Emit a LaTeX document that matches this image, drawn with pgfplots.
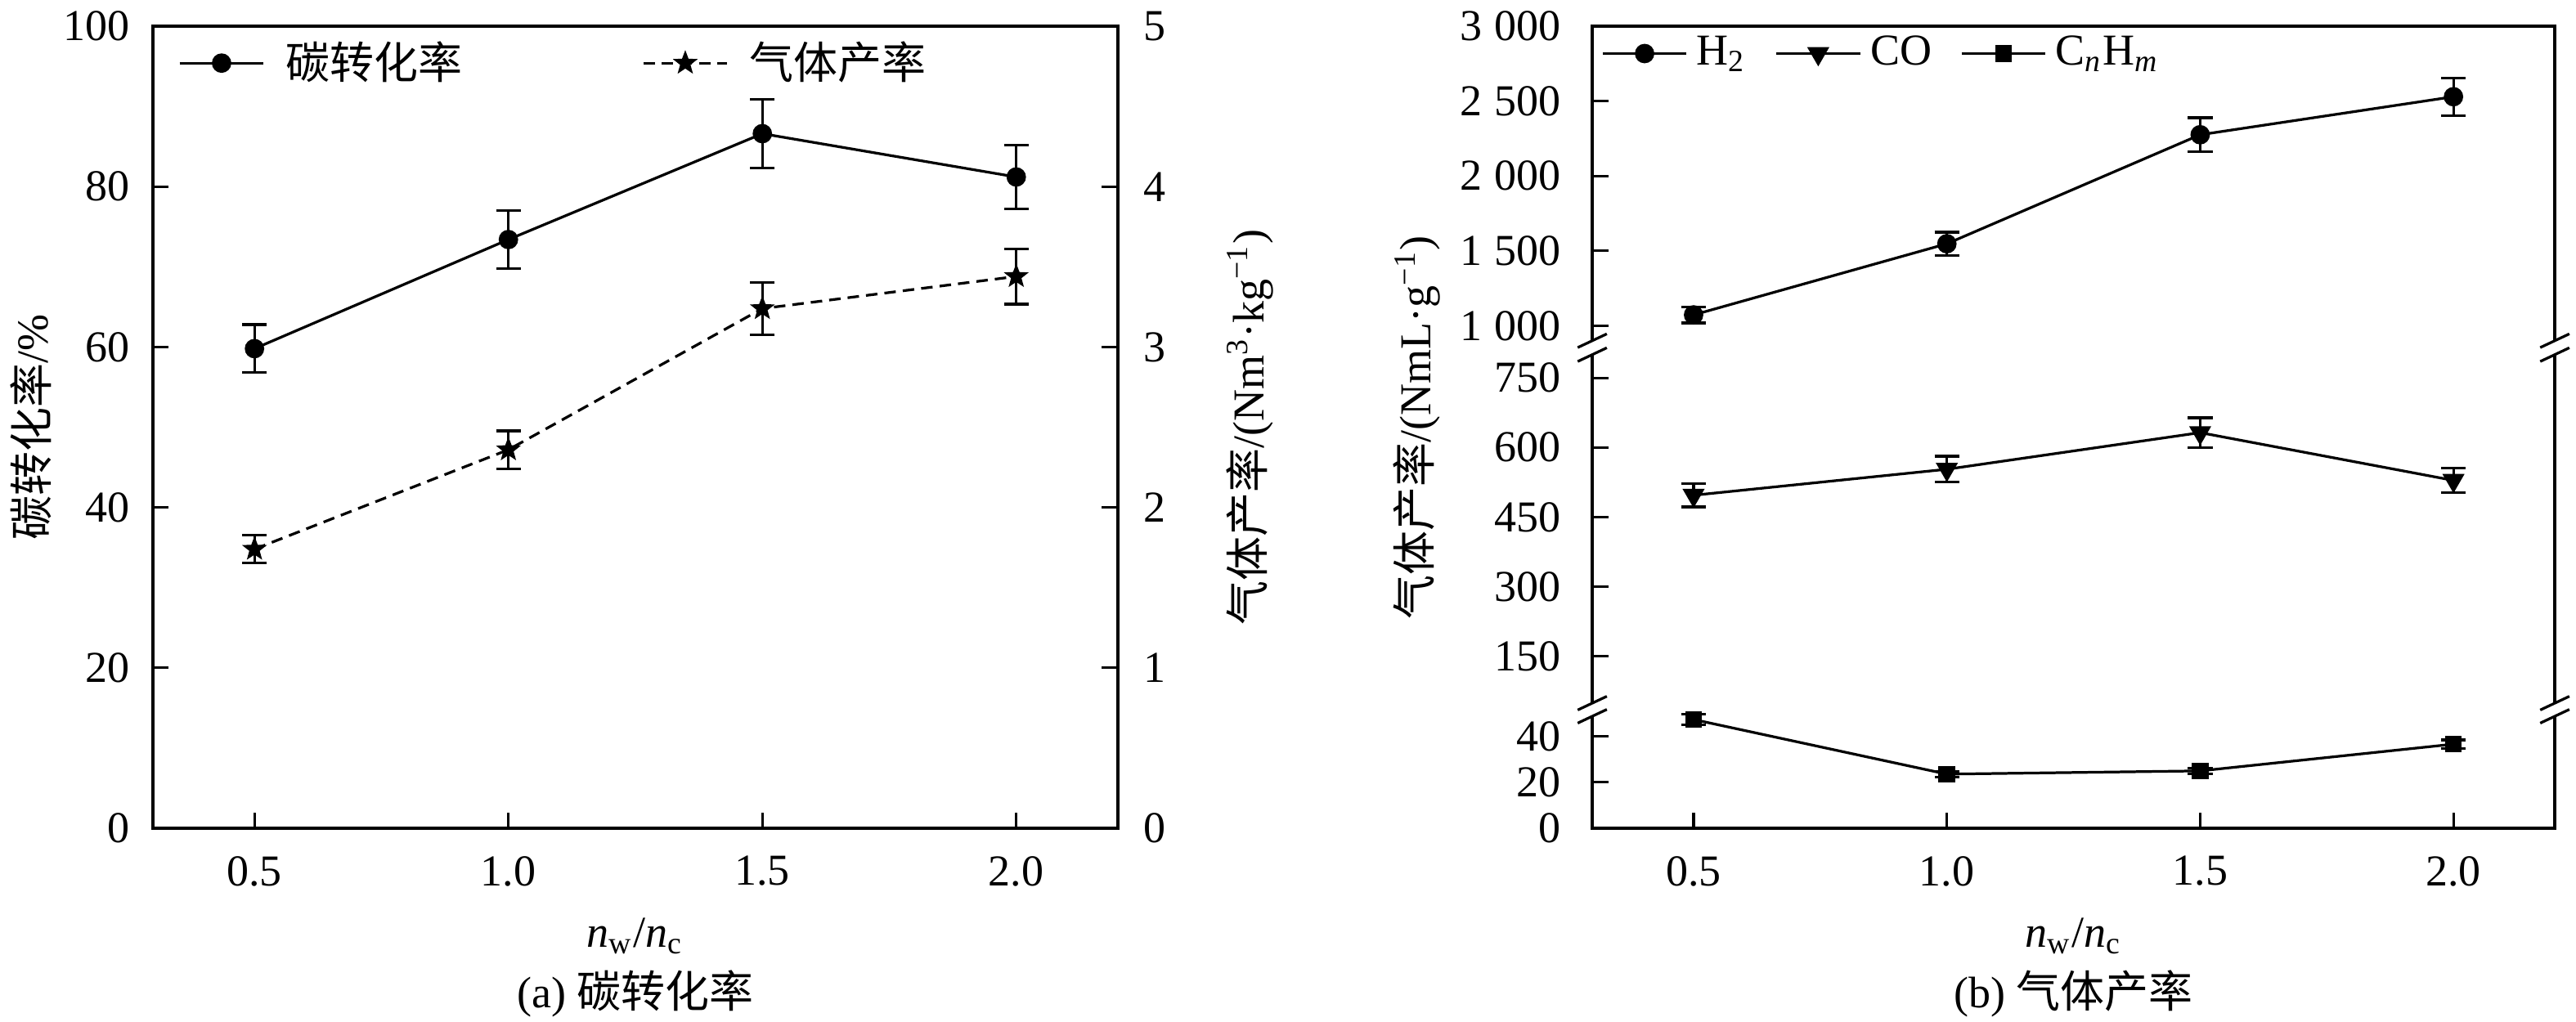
\documentclass[border=0pt]{standalone}
\usepackage{fontspec}
\setmainfont{Liberation Serif}
\newfontfamily\cjk{Noto Sans CJK SC}
\usepackage{pgfplots}
\pgfplotsset{compat=1.18}

\pgfdeclareplotmark{fstar}{%
 \pgfpathmoveto{\pgfpointpolar{90}{\pgfplotmarksize}}%
 \pgfpathlineto{\pgfpointpolar{126}{0.42\pgfplotmarksize}}%
 \pgfpathlineto{\pgfpointpolar{162}{\pgfplotmarksize}}%
 \pgfpathlineto{\pgfpointpolar{198}{0.42\pgfplotmarksize}}%
 \pgfpathlineto{\pgfpointpolar{234}{\pgfplotmarksize}}%
 \pgfpathlineto{\pgfpointpolar{270}{0.42\pgfplotmarksize}}%
 \pgfpathlineto{\pgfpointpolar{306}{\pgfplotmarksize}}%
 \pgfpathlineto{\pgfpointpolar{342}{0.42\pgfplotmarksize}}%
 \pgfpathlineto{\pgfpointpolar{18}{\pgfplotmarksize}}%
 \pgfpathlineto{\pgfpointpolar{54}{0.42\pgfplotmarksize}}%
 \pgfpathclose
 \pgfusepathqfillstroke}

\pgfplotsset{
 base/.style={scale only axis, xmin=0.3, xmax=2.2, tick align=inside, major tick length=3.6pt,
   every tick/.style={black, line width=0.6pt}, axis line style={line width=0.6pt},
   xtick={0.5,1,1.5,2}, xticklabels={0.5,1.0,1.5,2.0},
   xticklabel style={yshift=-2.8pt},
   tick label style={font=\normalsize},
   legend style={draw=none, fill=none, font=\normalsize},
   legend image code/.code={\draw[mark repeat=2, mark phase=2, #1] plot coordinates {(0pt,0pt) (9.5pt,0pt) (19pt,0pt)};},
   clip=false},
 eb/.style={error bars/.cd, y dir=both, y explicit,
   error bar style={solid, line width=0.6pt},
   error mark options={solid, rotate=90, mark size=2.8pt, line width=0.6pt}},
 sA/.style={black, line width=0.6pt, mark=*, mark size=1.9pt},
 sB/.style={black, line width=0.6pt, dash pattern=on 2.6pt off 1.6pt, mark=fstar, mark size=2.1pt, mark options={solid}},
 sH/.style={black, line width=0.6pt, mark=*, mark size=1.9pt},
 sC/.style={black, line width=0.6pt, mark=triangle*, mark size=2.3pt, mark options={rotate=180}},
 sM/.style={black, line width=0.6pt, mark=square*, mark size=1.6pt},
}

\begin{document}
\begin{tikzpicture}
\useasboundingbox (0,0) rectangle (583.33pt,231.3pt);

% ---------- (a) ----------
\begin{axis}[base, at={(34.63pt,43.7pt)}, anchor=south west, width=218.5pt, height=181.67pt,
  ymin=0, ymax=100, ytick={0,20,40,60,80,100}, yticklabels={0,20,40,60,80,100},
  ytick pos=left, xtick pos=bottom, yticklabel style={xshift=-1.7pt}]
\addplot[sA, eb] coordinates {
 (0.5,59.8) +- (0,3.0)
 (1.0,73.4) +- (0,3.6)
 (1.5,86.6) +- (0,4.3)
 (2.0,81.2) +- (0,4.0)
};
\end{axis}
\begin{axis}[base, at={(34.63pt,43.7pt)}, anchor=south west, width=218.5pt, height=181.67pt,
  ymin=0, ymax=5, ytick={0,1,2,3,4,5}, yticklabels={0,1,2,3,4,5},
  axis x line=none, axis y line*=right, yticklabel style={xshift=2.3pt},
  legend columns=2,
  legend style={at={(0.0254,0.954)}, anchor=west, inner sep=0pt,
    /tikz/every odd column/.append style={column sep=2.8pt},
    /tikz/every even column/.append style={column sep=38.6pt}}]
\addlegendimage{sA}
\addlegendentry{\cjk 碳转化率}
\addplot[sB, eb] coordinates {
 (0.5,1.74) +- (0,0.087)
 (1.0,2.36) +- (0,0.118)
 (1.5,3.24) +- (0,0.162)
 (2.0,3.44) +- (0,0.172)
};
\addlegendentry{\cjk 气体产率}
\end{axis}

\node[rotate=90] at (7.0pt,134.5pt) {{\cjk 碳转化率}/\%};
\node[rotate=90] at (283pt,134.5pt) {{\cjk 气体产率}/(Nm\textsuperscript{3}·kg\textsuperscript{−1})};
\node at (143.9pt,19.3pt) {\textit{n}\textsubscript{w}/\textit{n}\textsubscript{c}};
\node at (143.9pt,6.3pt) {(a) {\cjk 碳转化率}};

% ---------- (b) ----------
\begin{axis}[base, name=rtop, at={(360.56pt,154.13pt)}, anchor=south west, width=217.96pt, height=71.24pt,
  ymin=899.5, ymax=3000, ytick={1000,1500,2000,2500,3000},
  yticklabels={1\hspace{2.8pt}000,1\hspace{2.8pt}500,2\hspace{2.8pt}000,2\hspace{2.8pt}500,3\hspace{2.8pt}000},
  xtick=\empty, ytick pos=left, axis line style={draw=none}, yticklabel style={xshift=-3.6pt},
  legend columns=3,
  legend style={at={(0.0085,0.913)}, anchor=west, inner sep=0pt,
    /tikz/every even column/.append style={column sep=4.5pt}}]
\addplot[sH, eb] coordinates {
 (0.5,1072) +- (0,54)
 (1.0,1547) +- (0,77)
 (1.5,2275) +- (0,114)
 (2.0,2529) +- (0,126)
};
\addlegendentry{H\textsubscript{2}}
\addlegendimage{sC}
\addlegendentry{CO}
\addlegendimage{sM}
\addlegendentry{C\textsubscript{\textit{n}}H\textsubscript{\textit{m}}}
\end{axis}

\begin{axis}[base, name=rmid, at={(360.56pt,72.04pt)}, anchor=south west, width=217.96pt, height=78.94pt,
  ymin=48.6, ymax=800.2, ytick={150,300,450,600,750}, yticklabels={150,300,450,600,750},
  xtick=\empty, ytick pos=left, axis line style={draw=none}, yticklabel style={xshift=-3.6pt}]
\addplot[sC, eb] coordinates {
 (0.5,497) +- (0,25)
 (1.0,553) +- (0,28)
 (1.5,632) +- (0,32)
 (2.0,529) +- (0,26)
};
\end{axis}

\begin{axis}[base, name=rbot, at={(360.56pt,43.7pt)}, anchor=south west, width=217.96pt, height=25.37pt,
  ymin=0, ymax=48.6, ytick={0,20,40}, yticklabels={0,20,40},
  ytick pos=left, xtick pos=bottom, axis line style={draw=none}, yticklabel style={xshift=-3.6pt}]
\addplot[sM, eb] coordinates {
 (0.5,47.2) +- (0,2.4)
 (1.0,23.5) +- (0,1.2)
 (1.5,24.9) +- (0,1.2)
 (2.0,36.5) +- (0,1.8)
};
\end{axis}

\begin{scope}[line width=0.6pt]
\draw (rtop.south west) -- (rtop.north west) -- (rtop.north east) -- (rtop.south east);
\draw (rmid.north west) -- (rmid.south west);
\draw (rmid.north east) -- (rmid.south east);
\draw (rbot.north west) -- (rbot.south west) -- (rbot.south east) -- (rbot.north east);
\foreach \p in {rtop.south west, rtop.south east, rmid.north west, rmid.north east,
                rmid.south west, rmid.south east, rbot.north west, rbot.north east}{
  \draw ([shift={(-3.3pt,-1.55pt)}]\p) -- ([shift={(3.3pt,1.55pt)}]\p);
}
\end{scope}

\node[rotate=90] at (320.9pt,134.5pt) {{\cjk 气体产率}/(NmL·g\textsuperscript{−1})};
\node at (469.5pt,19.3pt) {\textit{n}\textsubscript{w}/\textit{n}\textsubscript{c}};
\node at (469.5pt,6.3pt) {(b) {\cjk 气体产率}};
\end{tikzpicture}
\end{document}
